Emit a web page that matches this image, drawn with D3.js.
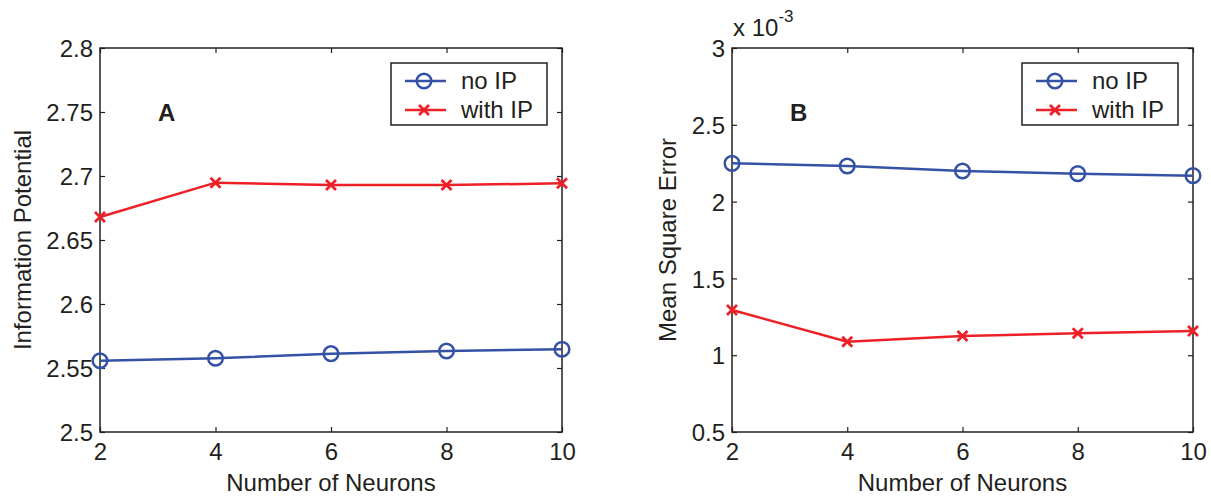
<!DOCTYPE html>
<html>
<head>
<meta charset="utf-8">
<script src="https://cdn.jsdelivr.net/npm/d3@7"></script>
<style>
  html, body { margin: 0; padding: 0; background: #fff; }
  svg { display: block; }
  text { font-family: "Liberation Sans", Arial, Helvetica, sans-serif; fill: #231f20; }
</style>
</head>
<body>
<svg id="chart" width="1211" height="497"></svg>
<script>
// Number of hidden neurons (shared x values)
const neurons = [2, 4, 6, 8, 10];
const xTicks = [2, 4, 6, 8, 10];

// Panel A: information potential
const ipNoIP   = [2.5557, 2.5576, 2.5612, 2.5633, 2.5646];
const ipWithIP = [2.6680, 2.6948, 2.6930, 2.6929, 2.6943];
const ipTicks  = [2.5, 2.55, 2.6, 2.65, 2.7, 2.75, 2.8];

// Panel B: mean square error (in units of 1e-3)
const mseNoIP   = [2.249, 2.232, 2.199, 2.182, 2.169];
const mseWithIP = [1.294, 1.088, 1.125, 1.143, 1.158];
const mseTicks  = [0.5, 1, 1.5, 2, 2.5, 3];

const seriesNames = ["no IP", "with IP"];
const BLUE = "#3451a5";
const RED = "#ed1f27";
const INK = "#231f20";
const LW = 2.5;

const svg = d3.select("#chart");

function drawPanel(cfg) {
  const { left, right, top, bottom } = cfg;
  const x = d3.scaleLinear().domain([2, 10]).range([left, right]);
  const y = d3.scaleLinear().domain(cfg.yDomain).range([bottom, top]);
  const g = svg.append("g");
  const fmt = v => String(+v.toFixed(2));

  // axes with inward ticks on all four sides
  const tick = 5;
  const axB = g.append("g").attr("transform", `translate(0,${bottom})`)
    .call(d3.axisBottom(x).tickValues(xTicks).tickSizeInner(-tick).tickSizeOuter(0).tickPadding(11).tickFormat(d3.format("d")));
  const axT = g.append("g").attr("transform", `translate(0,${top})`)
    .call(d3.axisTop(x).tickValues(xTicks).tickSizeInner(-tick).tickSizeOuter(0).tickFormat(""));
  const axL = g.append("g").attr("transform", `translate(${left},0)`)
    .call(d3.axisLeft(y).tickValues(cfg.yTicks).tickSizeInner(-tick).tickSizeOuter(0).tickPadding(7).tickFormat(fmt));
  const axR = g.append("g").attr("transform", `translate(${right},0)`)
    .call(d3.axisRight(y).tickValues(cfg.yTicks).tickSizeInner(-tick).tickSizeOuter(0).tickFormat(""));
  [axB, axT, axL, axR].forEach(a => {
    a.select(".domain").remove();
    a.selectAll(".tick line").attr("stroke", INK).attr("stroke-width", 1.2);
    a.selectAll(".tick text").attr("font-size", 24).attr("fill", INK)
      .style("font-family", "'Liberation Sans', Arial, sans-serif");
  });
  axB.selectAll(".tick text").attr("dy", "0.72em");
  axL.selectAll(".tick text").attr("dy", "0.36em");

  // plot box
  g.append("rect")
    .attr("x", left).attr("y", top)
    .attr("width", right - left).attr("height", bottom - top)
    .attr("fill", "none").attr("stroke", INK).attr("stroke-width", 1.5);

  // series lines
  const line = d3.line().x((d, i) => x(neurons[i])).y(d => y(d));
  g.append("path").datum(cfg.noIP).attr("d", line)
    .attr("fill", "none").attr("stroke", BLUE).attr("stroke-width", LW);
  g.append("path").datum(cfg.withIP).attr("d", line)
    .attr("fill", "none").attr("stroke", RED).attr("stroke-width", LW);

  // circle markers
  g.selectAll("circle.m").data(cfg.noIP).join("circle").attr("class", "m")
    .attr("cx", (d, i) => x(neurons[i])).attr("cy", d => y(d)).attr("r", 7.3)
    .attr("fill", "none").attr("stroke", BLUE).attr("stroke-width", LW);

  // cross markers
  const cross = (sel, cx, cy, s) => sel.append("path")
    .attr("d", `M${cx - s},${cy - s}L${cx + s},${cy + s}M${cx - s},${cy + s}L${cx + s},${cy - s}`)
    .attr("stroke", RED).attr("stroke-width", 2.8).attr("fill", "none");
  cfg.withIP.forEach((d, i) => cross(g, x(neurons[i]), y(d), 5));

  // panel letter
  g.append("text").attr("x", cfg.letterX).attr("y", 121)
    .attr("font-size", 24).attr("font-weight", "bold").text(cfg.letter);

  // axis titles
  g.append("text").attr("x", (left + right) / 2).attr("y", 491)
    .attr("text-anchor", "middle").attr("font-size", 24).text("Number of Neurons");
  g.append("text")
    .attr("transform", `translate(${cfg.yTitleX},${(top + bottom) / 2}) rotate(-90)`)
    .attr("text-anchor", "middle").attr("font-size", 24).text(cfg.yTitle);

  // legend
  const lw = 156, lh = 62;
  const lx = right - 15 - lw, ly = top + 15;
  const lg = g.append("g").attr("transform", `translate(${lx},${ly})`);
  lg.append("rect").attr("width", lw).attr("height", lh)
    .attr("fill", "#fff").attr("stroke", INK).attr("stroke-width", 1.5);
  const rows = [18, 47];
  [BLUE, RED].forEach((c, i) => {
    lg.append("line").attr("x1", 14).attr("x2", 55).attr("y1", rows[i]).attr("y2", rows[i])
      .attr("stroke", c).attr("stroke-width", LW);
    lg.append("text").attr("x", 70).attr("y", rows[i] + 8).attr("font-size", 24).text(seriesNames[i]);
  });
  lg.append("circle").attr("cx", 33).attr("cy", rows[0]).attr("r", 7.3)
    .attr("fill", "none").attr("stroke", BLUE).attr("stroke-width", LW);
  cross(lg, 33, rows[1], 5);

  return g;
}

drawPanel({
  left: 100, right: 562, top: 48, bottom: 432,
  yDomain: [2.5, 2.8], yTicks: ipTicks,
  noIP: ipNoIP, withIP: ipWithIP,
  letter: "A", letterX: 158,
  yTitle: "Information Potential", yTitleX: 31
});

const gB = drawPanel({
  left: 732, right: 1193, top: 48, bottom: 432,
  yDomain: [0.5, 3], yTicks: mseTicks,
  noIP: mseNoIP, withIP: mseWithIP,
  letter: "B", letterX: 790,
  yTitle: "Mean Square Error", yTitleX: 676
});

// exponent label for panel B
const exp = gB.append("text").attr("x", 733).attr("y", 36).attr("font-size", 24);
exp.append("tspan").text("x 10");
exp.append("tspan").attr("font-size", 17).attr("dy", -14).text("-3");
</script>
</body>
</html>
